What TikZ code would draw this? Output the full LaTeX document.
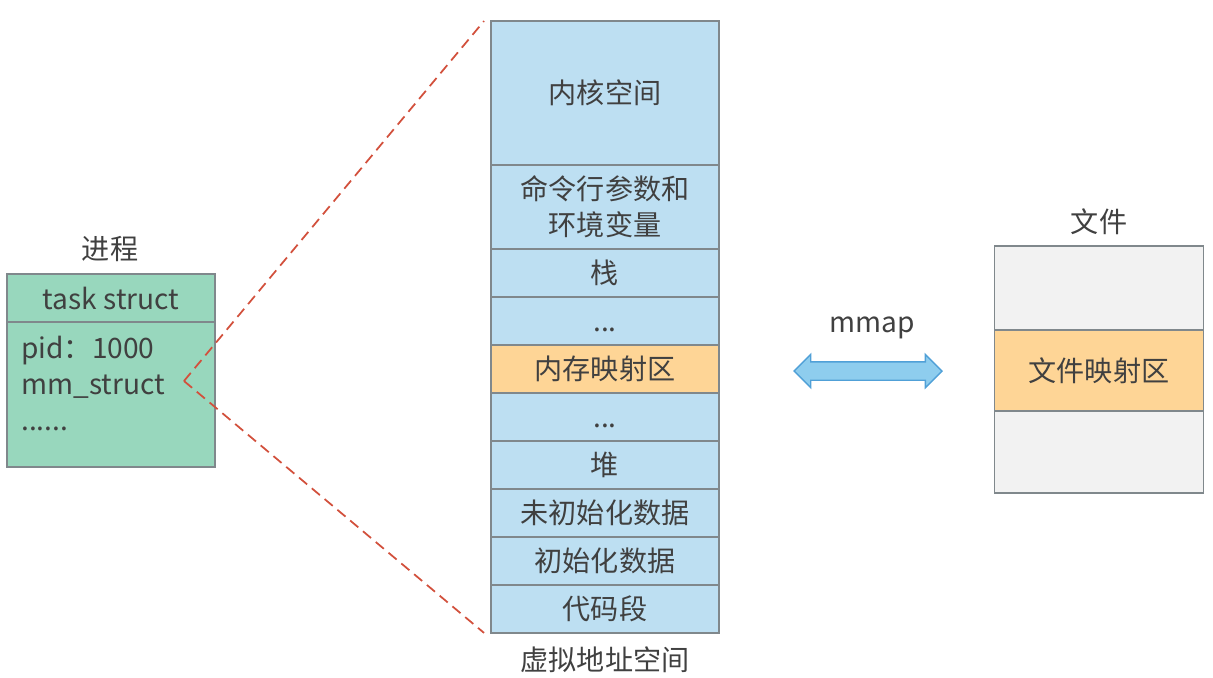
\documentclass[tikz,border=0pt]{standalone}
\usepackage{fontspec}
\setmainfont{Noto Sans CJK SC}
\usepackage{tikz}
\usetikzlibrary{positioning, shapes.arrows}
\definecolor{StackBlue}{RGB}{189,223,242}
\definecolor{MapOrange}{RGB}{254,213,150}
\definecolor{TaskGreen}{RGB}{152,215,189}
\definecolor{FileGray}{RGB}{242,242,242}
\definecolor{EdgeGray}{RGB}{128,136,140}
\definecolor{TextGray}{RGB}{64,64,64}
\definecolor{ZoomRed}{RGB}{210,80,60}
\definecolor{ArrowBlue}{RGB}{142,205,238}
\definecolor{ArrowEdge}{RGB}{80,160,215}
\tikzstyle{seg} = [rectangle, draw=EdgeGray, line width=0.8pt, fill=StackBlue, minimum width=4.56cm, inner sep=0pt, outer sep=0pt, align=center, text=TextGray]
\tikzstyle{mapped} = [seg, fill=MapOrange]
\tikzstyle{filepart} = [seg, fill=FileGray, minimum width=4.18cm]
\tikzstyle{taskpart} = [seg, fill=TaskGreen, minimum width=4.16cm]
\tikzstyle{title} = [text=TextGray]
\tikzstyle{zoomline} = [ZoomRed, line width=1pt, dash pattern=on 6pt off 3.5pt]
\tikzstyle{maparrow} = [double arrow, draw=ArrowEdge, line width=0.8pt, fill=ArrowBlue, inner xsep=0pt, inner ysep=0.17cm, minimum height=2.96cm, minimum width=0.64cm, double arrow head extend=0.15cm]

\begin{document}
\begin{tikzpicture}[x=0.02cm, y=-0.02cm, font=\fontsize{16}{20.5}\selectfont]
    \useasboundingbox (0,0) rectangle (1213,677);
    % virtual address space
    \node[seg, minimum height=2.88cm] (kernel) at (605,93) {内核空间};
    \node[seg, minimum height=1.68cm, below=0pt of kernel] (args) {命令行参数和\\环境变量};
    \node[seg, minimum height=0.96cm, below=0pt of args] (stack) {栈};
    \node[seg, minimum height=0.96cm, below=0pt of stack] (gapa) {\vphantom{栈}...};
    \node[mapped, minimum height=0.96cm, below=0pt of gapa] (maparea) {内存映射区};
    \node[seg, minimum height=0.96cm, below=0pt of maparea] (gapb) {\vphantom{栈}...};
    \node[seg, minimum height=0.96cm, below=0pt of gapb] (heap) {堆};
    \node[seg, minimum height=0.96cm, below=0pt of heap] (bss) {未初始化数据};
    \node[seg, minimum height=0.96cm, below=0pt of bss] (data) {初始化数据};
    \node[seg, minimum height=0.96cm, below=0pt of data] (code) {代码段};
    \node[title] (vas) at (605,660) {虚拟地址空间};

    % process
    \node[title] (proctitle) at (110,249) {进程};
    \node[taskpart, minimum height=0.96cm] (taskhead) at (111,298) {task struct};
    \node[taskpart, minimum height=2.9cm, below=0pt of taskhead] (taskbody) {};
    \node[anchor=north west, align=left, inner sep=0pt, text=TextGray] (fields) at (21,336) {pid：1000\\mm\_struct\\......};
    \coordinate (mmref) at (184,381);
    \draw[zoomline] (mmref) -- ([xshift=-0.14cm]kernel.north west);
    \draw[zoomline] (mmref) -- ([xshift=-0.14cm]code.south west);

    % mmap
    \node[maparrow] (mmaparrow) at (868,371) {};
    \node[title] (mmaplabel) at (872,328) {mmap};

    % file
    \node[title] (filetitle) at (1099,222) {文件};
    \node[filepart, minimum height=1.68cm] (filetop) at (1099,288) {};
    \node[mapped, minimum width=4.18cm, minimum height=1.62cm, below=0pt of filetop] (filemap) {文件映射区};
    \node[filepart, minimum height=1.64cm, below=0pt of filemap] (filebot) {};
\end{tikzpicture}
\end{document}
